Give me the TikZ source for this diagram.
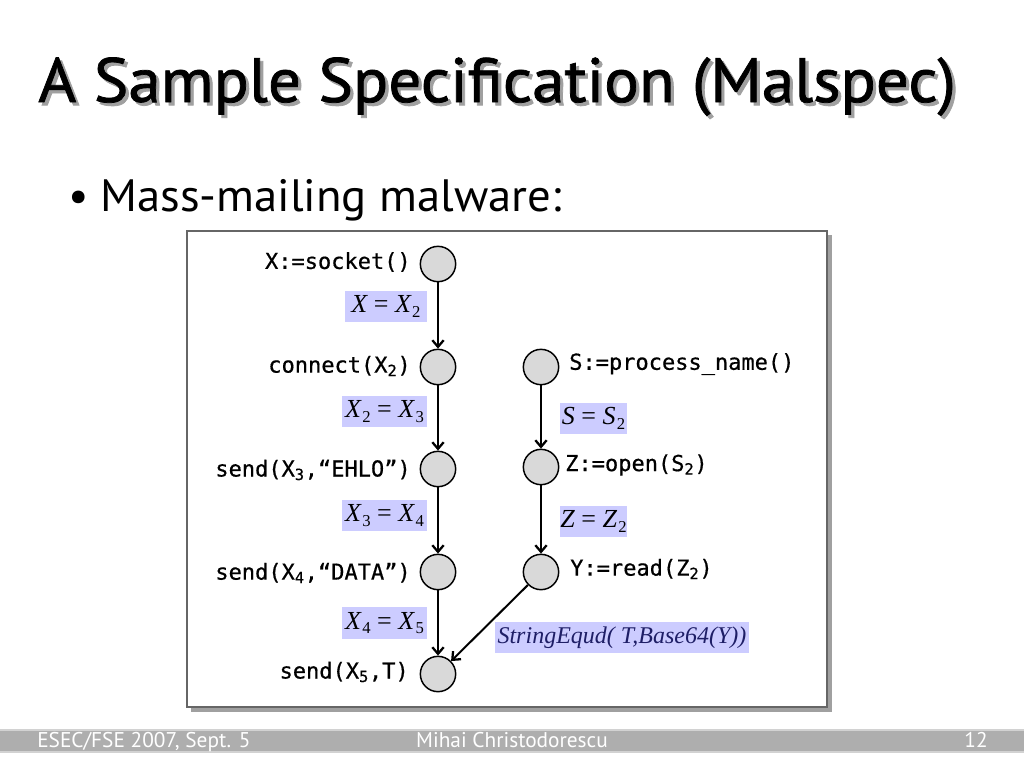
\documentclass[tikz,border=0pt]{standalone}
\usepackage{fontspec}
\setmainfont{PT Sans}
\newfontfamily\titlef[FakeStretch=1.04, FakeBold=1.2]{PT Sans}
\newfontfamily\bulf[FakeStretch=1.03]{PT Sans}
\newfontfamily\monof[FakeBold=0.6]{DejaVu Sans Mono}
\newfontfamily\tmsf{Liberation Serif}
\usetikzlibrary{arrows.meta}
\definecolor{lblue}{HTML}{CCCCFF}
\definecolor{nodegray}{HTML}{D9D9D9}
\definecolor{navy}{HTML}{1E1E66}
\definecolor{footgray}{HTML}{AEAEAE}
\definecolor{shadowgray}{HTML}{A0A0A0}
\newcommand{\mv}[1]{{\itshape #1}}
\newcommand{\sbs}[1]{\kern1pt\raisebox{-0.4ex}{\fontsize{12.5pt}{12.5pt}\selectfont #1}}
\newcommand{\msub}[1]{\textsubscript{#1}}
\newcommand{\titletext}{A Sample Specification (Malspec)}
\tikzset{
  st/.style={circle, draw=black, line width=1.1pt, fill=nodegray, minimum size=26.5pt, inner sep=0pt},
  code/.style={font=\monof\fontsize{16.5pt}{19pt}\selectfont, inner sep=0pt},
  lbl/.style={fill=lblue, font=\tmsf\fontsize{19.5pt}{21pt}\selectfont, inner sep=0pt, minimum height=23.5pt},
  flow/.style={-{Straight Barb[length=5pt,width=8.5pt,line width=1.7pt]}, line width=1.9pt, black},
  foot/.style={font=\fontsize{16pt}{18pt}\selectfont, text=white, inner sep=0pt}
}
\begin{document}
\begin{tikzpicture}[x=0.75pt,y=-0.75pt]
\useasboundingbox (0,0) rectangle (1024,768);
\fill[white] (0,0) rectangle (1024,768);
% title with shadow
\node[anchor=base west, inner sep=0pt, font=\titlef\fontsize{47pt}{52pt}\selectfont] (title) at (38,102)
  {\rlap{\hspace*{2.4pt}\raisebox{-2.4pt}{\color{shadowgray}\titletext}}\titletext};
% bullet
\node[anchor=base west, inner sep=0pt, font=\fontsize{34pt}{40pt}\selectfont] (bul) at (68,211) {•};
\node[anchor=base west, inner sep=0pt, font=\bulf\fontsize{34pt}{40pt}\selectfont] (bultext) at (100,211) {Mass-mailing malware:};
% frame
\fill[shadowgray] (191,235) rectangle (832,712);
\draw[fill=white, draw=gray!80!black, line width=0.8pt] (187,231) rectangle (827,707);
% states
\node[st] (s1) at (438,264) {};
\node[st] (s2) at (438,367) {};
\node[st] (s3) at (438,469) {};
\node[st] (s4) at (438,572) {};
\node[st] (s5) at (438,674) {};
\node[st] (r1) at (541,367) {};
\node[st] (r2) at (541,467) {};
\node[st] (r3) at (541,572) {};
% state labels
\node[code, anchor=east] (t1) at (411,262) {X:=socket()};
\node[code, anchor=east] (t2) at (411,366) {connect(X\msub{2})};
\node[code, anchor=east] (t3) at (411,470) {send(X\msub{3},“EHLO”)};
\node[code, anchor=east] (t4) at (411,573) {send(X\msub{4},“DATA”)};
\node[code, anchor=east] (t5) at (409,672) {send(X\msub{5},T)};
\node[code, anchor=west] (u1) at (569,364) {S:=process\_name()};
\node[code, anchor=west] (u2) at (565,465) {Z:=open(S\msub{2})};
\node[code, anchor=west] (u3) at (570,569) {Y:=read(Z\msub{2})};
% edge labels
\node[lbl, minimum width=61.5pt] (e1) at (386,306.5) {\mv{X} = \mv{X}\sbs{2}};
\node[lbl, minimum width=63.75pt] (e2) at (384.5,411.5) {\mv{X}\sbs{2} = \mv{X}\sbs{3}};
\node[lbl, minimum width=63.75pt] (e3) at (384.5,515.5) {\mv{X}\sbs{3} = \mv{X}\sbs{4}};
\node[lbl, minimum width=63.75pt] (e4) at (384.5,623) {\mv{X}\sbs{4} = \mv{X}\sbs{5}};
\node[lbl, minimum width=50.25pt] (f1) at (593.5,418.5) {\mv{S} = \mv{S}\sbs{2}};
\node[lbl, minimum width=50.25pt] (f2) at (593.5,521.5) {\mv{Z} = \mv{Z}\sbs{2}};
\node[lbl, minimum width=190.5pt, text=navy, font=\tmsf\fontsize{18pt}{20pt}\selectfont] (g1) at (622,637.5) {\mv{StringEqud( T,Base64(Y))}};
% connectors
\draw[flow] (s1) -- (s2);
\draw[flow] (s2) -- (s3);
\draw[flow] (s3) -- (s4);
\draw[flow] (s4) -- (s5);
\draw[flow] (r1) -- (r2);
\draw[flow] (r2) -- (r3);
\draw[flow, line width=1.5pt] (r3) -- (s5);
% footer
\fill[gray!35] (0,729) rectangle (1024,753);
\fill[footgray] (0,731) rectangle (1024,751);
\node[foot, anchor=base west] (fl) at (37,747) {ESEC/FSE 2007, Sept. 5};
\node[foot, anchor=base] (fc) at (512,747) {Mihai Christodorescu};
\node[foot, anchor=base east] (fr) at (988,747) {12};
\end{tikzpicture}
\end{document}
